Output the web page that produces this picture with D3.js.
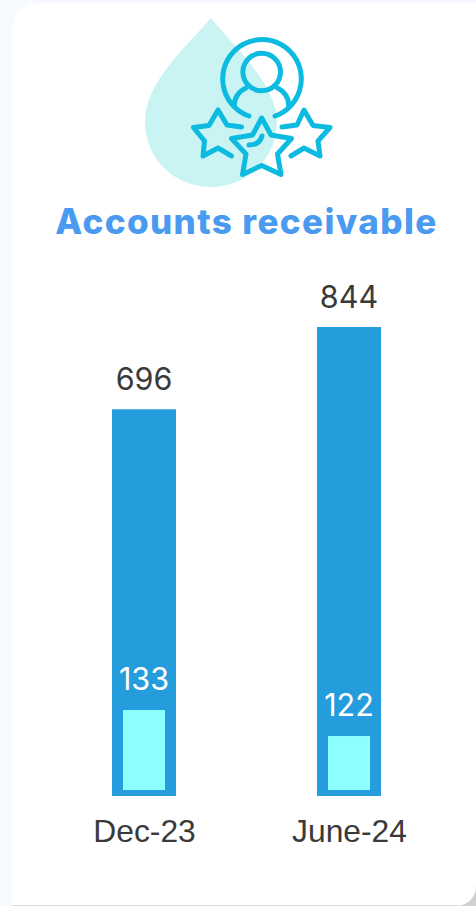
<!DOCTYPE html>
<html><head><meta charset="utf-8">
<script src="https://cdnjs.cloudflare.com/ajax/libs/d3/7.8.5/d3.min.js"></script>
<style>html,body{margin:0;padding:0;background:#f6f9fe;overflow:hidden}svg{display:block}</style>
</head><body><svg id="c" width="476" height="906"></svg>
<script>
const categories = ["Dec-23", "June-24"];
const totalValues = [696, 844];
const innerValues = [133, 122];
const titleText = "Accounts receivable";

const svg = d3.select("#c");
const x = d3.scalePoint().domain(categories).range([144, 349]);
const y = d3.scaleLinear().domain([0, 844]).range([796, 327]);
const yInner = d3.scaleLinear().domain([99.2, 133]).range([790, 710]);

// card
svg.append("rect").attr("x", 12).attr("y", 3).attr("width", 490).attr("height", 902).attr("fill", "#fff");
svg.append("path").attr("d", "M12 3H38A26 26 0 0 0 12 29Z").attr("fill", "#f6f9fe");
svg.append("path").attr("d", "M476 906V886A20 20 0 0 1 456 906Z").attr("fill", "#d0d2d4");
svg.append("rect").attr("x", 12).attr("y", 905).attr("width", 446).attr("height", 1).attr("fill", "#d8dadc");

// icon
svg.append("path")
  .attr("d", "M210.5 18C190 44 145 80 145 122C145 158 174 187 211 187C248 187 277 158 277 122C277 100 262 78 246 58Z")
  .attr("fill", "#caf4f4");
const icon = svg.append("g").attr("fill", "none").attr("stroke", "#0dbbe0").attr("stroke-width", 5)
  .attr("stroke-linecap", "round").attr("stroke-linejoin", "round");
icon.append("path").attr("d", "M249 116A39.3 39.3 0 1 1 275 116");
icon.append("circle").attr("cx", 261.7).attr("cy", 72).attr("r", 18.8);
icon.append("path").attr("d", "M246 88C239 91 234 98 234.5 105");
icon.append("path").attr("d", "M277.5 88C284 91 289 98 288.5 105");
icon.append("path").attr("d", "M261.7 118L271 135L291.5 138.5L277.5 154L281 174.5L261.7 165.5L242.5 174.5L246 154L231.5 138.5L252.5 135Z");
icon.append("path").attr("d", "M249 145C255 145 260 143 262 136");
icon.append("path").attr("d", "M241.5 127L227 125L218 110L209 125.5L193.5 127.5L204.5 141L203 156L218 148L231.5 156");
icon.append("path").attr("d", "M282 127L297 125L304 110L313 125.5L330 127.5L318 141L320 156L304 148L291 156");

// title
svg.append("text").text(titleText).attr("x", 246.5).attr("y", 234).attr("text-anchor", "middle")
  .attr("font-family", "Inter").attr("font-weight", 800).attr("font-size", 35).attr("letter-spacing", 1.4).attr("fill", "#4a9bf0");

// bars
svg.selectAll(".outer").data(categories).join("rect").attr("class", "outer")
  .attr("x", d => x(d) - 32).attr("width", 64)
  .attr("y", (d, i) => y(totalValues[i])).attr("height", (d, i) => y(0) - y(totalValues[i]))
  .attr("fill", "#259cdb");
svg.selectAll(".inner").data(categories).join("rect").attr("class", "inner")
  .attr("x", d => x(d) - 21).attr("width", 42)
  .attr("y", (d, i) => yInner(innerValues[i])).attr("height", (d, i) => yInner.range()[0] - yInner(innerValues[i]))
  .attr("fill", "#8cffff");

// value labels
svg.selectAll(".vt").data(categories).join("text").attr("class", "vt")
  .attr("x", d => x(d)).attr("y", (d, i) => y(totalValues[i]) - 19.5)
  .attr("text-anchor", "middle").attr("font-family", "Inter").attr("font-size", 30.5).attr("fill", "#3a3a3a")
  .text((d, i) => totalValues[i]);
svg.selectAll(".vi").data(categories).join("text").attr("class", "vi")
  .attr("x", d => x(d)).attr("y", (d, i) => yInner(innerValues[i]) - 20)
  .attr("text-anchor", "middle").attr("font-family", "Inter").attr("font-size", 30.5).attr("fill", "#ffffff")
  .text((d, i) => innerValues[i]);

// category axis
const axis = svg.append("g").attr("transform", "translate(0,796)")
  .call(d3.axisBottom(x).tickSize(0).tickPadding(23));
axis.select(".domain").remove();
axis.selectAll("text").attr("font-family", "Liberation Sans").attr("font-size", 31.8).attr("fill", "#3a3a3a");
</script></body></html>
